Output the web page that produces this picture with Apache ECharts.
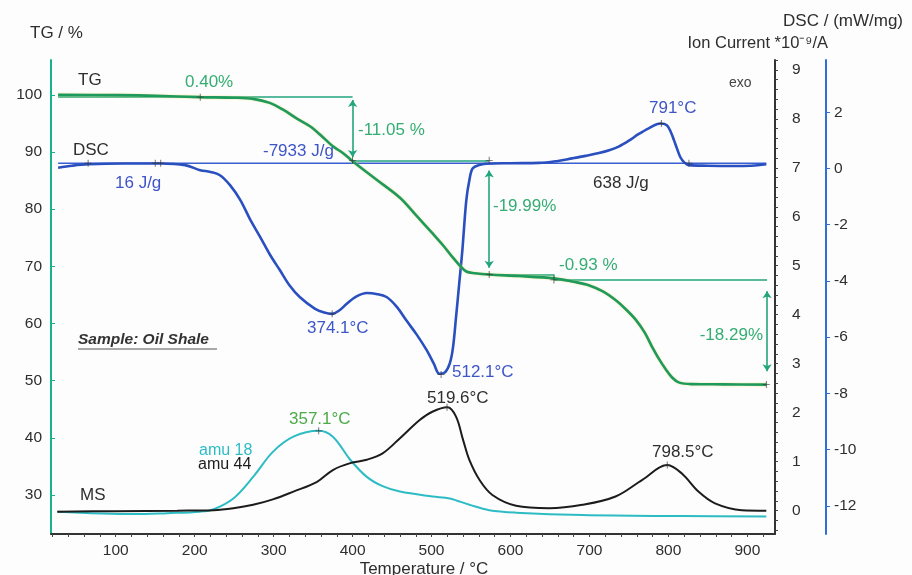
<!DOCTYPE html>
<html><head><meta charset="utf-8">
<script src="https://cdn.jsdelivr.net/npm/echarts@6/dist/echarts.min.js"></script>
<style>html,body{margin:0;padding:0;background:#fdfdfe}#c{width:912px;height:575px}</style>
</head><body><div id="c"></div>
<script>
// ---------- data ----------
const tgTemp  = [27,100,150,207,250,274,295,312,330,346,360,375,388,400,430,460,480,501,515,526,536,544,555,573,610,655,680,699,717,733,746,759,770,779,788,797,805,813,829,870,924];
const tgValue = [100,99.95,99.85,99.6,99.5,99.3,98.6,97.4,95.8,94.5,92.9,91.0,89.8,88.4,85.2,82.0,79.0,75.8,73.6,71.7,70.1,69.1,68.8,68.56,68.3,67.9,67.3,66.7,65.6,64.1,62.5,60.6,58.4,56.0,53.8,51.9,50.5,49.7,49.4,49.35,49.3];

const dscTemp  = [27,45,65,110,157,188,207,220,232,245,258,270,283,295,308,320,333,352,364,374,383,393,405,418,430,443,456,468,481,494,503,510,517,523,527,531,535,539,544,548,552,560,569,600,636,660,678,695,712,725,737,750,762,775,790,798,803,807,811,815,820,826,850,880,905,924];
const dscValue = [0.03,0.1,0.15,0.18,0.18,0.12,-0.06,-0.12,-0.24,-0.6,-1.13,-1.8,-2.44,-3.05,-3.62,-4.15,-4.57,-4.98,-5.12,-5.17,-5.05,-4.80,-4.55,-4.43,-4.46,-4.57,-4.92,-5.40,-5.9,-6.47,-6.95,-7.30,-7.25,-6.94,-6.4,-5.29,-4.1,-2.91,-1.13,-0.4,0.0,0.12,0.17,0.19,0.2,0.27,0.36,0.45,0.55,0.65,0.78,0.99,1.22,1.43,1.60,1.54,1.3,1.01,0.7,0.41,0.22,0.12,0.1,0.09,0.1,0.15];

const ms44Temp  = [26,100,178,224,249,274,299,325,355,375,397,418,438,460,485,501,520,531,540,548,561,577,607,649,691,733,767,798.5,817,838,859,893,924];
const ms44Value = [-0.02,-0.01,0,0.01,0.05,0.12,0.23,0.39,0.59,0.83,0.97,1.04,1.17,1.48,1.85,2.02,2.11,1.92,1.44,1.03,0.62,0.32,0.10,0.05,0.12,0.29,0.63,0.93,0.76,0.39,0.15,0.01,0];

const ms18Temp  = [26,123,165,207,224,249,274,299,325,357.1,375,397,418,438,460,501,523,548,573,607,691,817,924];
const ms18Value = [-0.02,-0.07,-0.05,-0.02,0.03,0.25,0.69,1.20,1.51,1.63,1.51,1.04,0.69,0.50,0.39,0.29,0.25,0.12,0.01,-0.04,-0.09,-0.11,-0.12];

// TG evaluation steps (%), and the temperatures that bound them
const tgStepLevels = [99.6, 88.55, 68.56, 67.63, 49.34];
const tgStepTemps  = [27, 400, 573, 655, 925];
const dscBaseline  = 0.19;

const tgMarks  = [[207,99.6],[400,88.55],[573,88.55],[573,68.56],[655,67.63],[924,49.34]];
const dscMarks = [[65,0.19],[150,0.19],[157,0.19],[374.1,-5.17],[512.1,-7.33],[791,1.6],[826,0.19]];
const msMarks  = [[357.1,1.63],[519.6,2.11],[798.5,0.93]];

const xTicks    = [100,200,300,400,500,600,700,800,900];
const tgTicks   = [30,40,50,60,70,80,90,100];
const ionTicks  = [0,1,2,3,4,5,6,7,8,9];
const dscTicks  = [-12,-10,-8,-6,-4,-2,0,2];

// ---------- style ----------
const FONT = '"Liberation Sans", Arial, sans-serif';
const C_TG = '#1e9a5e', C_GUIDE = '#22a57c', C_TXT_G = '#35ad72';
const C_DSC = '#2a4fbf', C_TXT_B = '#3e55c8', C_CYAN = '#2dbcc4', C_BLK = '#1c1c1c';
const TXT = '#2e2e2e';
const zip = (a, b) => a.map((v, i) => [v, b[i]]);
const range = (a, b, s) => { const r = []; for (let v = a; v <= b + 1e-9; v += s) r.push(+v.toFixed(3)); return r; };
const plus = 'path://M0,4.4H10V5.6H0Z M4.4,0H5.6V10H4.4Z';

const chart = echarts.init(document.getElementById('c'));

const L = tgStepLevels, S = tgStepTemps;
const guideLines = [
  [{coord:[S[0], L[0]]},{coord:[S[1], L[0]]}],
  [{coord:[S[1], L[1]]},{coord:[S[2], L[1]]}],
  [{coord:[S[2], L[2]]},{coord:[S[3], L[2]]}],
  [{coord:[S[3], L[2]]},{coord:[S[3], L[3]]}],
  [{coord:[S[3], L[3]]},{coord:[S[4], L[3]]}],
  [{coord:[S[1], L[0]-0.5], symbol:'arrow'},{coord:[S[1], L[1]+0.6], symbol:'arrow'}],
  [{coord:[S[2], L[1]-1.8], symbol:'arrow'},{coord:[S[2], L[2]+1.2], symbol:'arrow'}],
  [{coord:[S[4], L[3]-2], symbol:'arrow'},{coord:[S[4], L[4]+2.3], symbol:'arrow'}]
];

function txt(text, x, y, fill, opts) {
  opts = opts || {};
  return { type:'text', x:x, y:y, z:100, silent:true,
    style:{ text:text, fill:fill, font:(opts.font || ('17px ' + FONT)),
      textAlign: opts.align || 'left', textVerticalAlign:'middle',
      align: opts.align || 'left', verticalAlign:'middle' } };
}

const graphics = [
  txt('TG / %', 30, 33, TXT),
  txt('DSC / (mW/mg)', 903, 21, TXT, {align:'right'}),
  txt('Ion Current *10\u207B\u2079/A', 828, 43, TXT, {align:'right', font:'16.5px ' + FONT}),
  txt('Temperature / °C', 424, 569, TXT, {align:'center'}),
  txt('TG', 78, 80, TXT),
  txt('0.40%', 185, 82, C_TXT_G),
  txt('DSC', 73, 150, TXT),
  txt('16 J/g', 115, 183, C_TXT_B),
  txt('-7933 J/g', 263, 151, C_TXT_B),
  txt('-11.05 %', 358, 130, C_TXT_G),
  txt('-19.99%', 493, 206, C_TXT_G),
  txt('638 J/g', 593, 183, TXT),
  txt('-0.93 %', 559, 265, C_TXT_G),
  txt('791°C', 649, 108, C_TXT_B),
  txt('exo', 729, 83, '#444', {font:'14px ' + FONT}),
  txt('374.1°C', 307, 328, C_TXT_B),
  txt('512.1°C', 452, 372, C_TXT_B),
  txt('-18.29%', 763, 335, C_TXT_G, {align:'right'}),
  txt('Sample: Oil Shale', 78, 340, '#333', {font:'italic bold 15.5px ' + FONT}),
  { type:'line', z:100, silent:true, shape:{x1:78, y1:349, x2:217, y2:349}, style:{stroke:'#555', lineWidth:1.2} },
  txt('357.1°C', 289, 419, '#4caa48'),
  txt('519.6°C', 427, 398, TXT),
  txt('798.5°C', 652, 452, TXT),
  txt('amu 18', 199, 451, C_CYAN, {font:'16px ' + FONT}),
  txt('amu 44', 198, 465, C_BLK, {font:'16px ' + FONT}),
  txt('MS', 80, 495, TXT)
];

chart.setOption({
  backgroundColor:'#fdfdfe',
  animation:false,
  textStyle:{ fontFamily: FONT },
  grid:{ left:51, right:137, top:60, bottom:41, containLabel:false },
  xAxis:{
    type:'value', min:18, max:935,
    axisLine:{ show:true, onZero:false, lineStyle:{ color:'#333', width:2 } },
    axisTick:{ show:true, customValues: range(20, 920, 20), length:3, lineStyle:{ color:'#444' } },
    axisLabel:{ customValues: xTicks, color:TXT, fontSize:15.5, margin:9 },
    splitLine:{ show:false }
  },
  yAxis:[
    { type:'value', position:'left', min:23.17, max:106.1,
      axisLine:{ show:true, lineStyle:{ color:'#19b28e', width:2 } },
      axisTick:{ show:true, inside:true, customValues: tgTicks, length:4, lineStyle:{ color:'#19b28e' } },
      axisLabel:{ customValues: tgTicks, color:TXT, fontSize:15.5, margin:9 },
      splitLine:{ show:false } },
    { type:'value', position:'right', offset:0, min:-0.476, max:9.2,
      axisLine:{ show:true, lineStyle:{ color:'#333', width:2 } },
      axisTick:{ show:true, customValues: range(-0.4, 9.2, 0.2), length:3, lineStyle:{ color:'#444' } },
      axisLabel:{ customValues: ionTicks, color:TXT, fontSize:15.5, margin:17 },
      splitLine:{ show:false } },
    { type:'value', position:'right', offset:51, min:-13, max:3.86,
      axisLine:{ show:true, lineStyle:{ color:'#2f6fdc', width:2 } },
      axisTick:{ show:true, customValues: dscTicks, length:4, lineStyle:{ color:'#2f6fdc' } },
      axisLabel:{ customValues: dscTicks, color:TXT, fontSize:15.5, margin:8 },
      splitLine:{ show:false } }
  ],
  graphic: graphics,
  series:[
    { name:'DSC baseline', type:'line', yAxisIndex:2, silent:true, symbol:'none',
      data: [[27, dscBaseline],[924, dscBaseline]],
      lineStyle:{ color:'#3a5fd0', width:1.6 }, z:2 },
    { name:'amu 18', type:'line', yAxisIndex:1, symbol:'none', smooth:0.35,
      data: zip(ms18Temp, ms18Value), lineStyle:{ color:C_CYAN, width:2 }, z:3 },
    { name:'amu 44', type:'line', yAxisIndex:1, symbol:'none', smooth:0.35,
      data: zip(ms44Temp, ms44Value), lineStyle:{ color:C_BLK, width:2 }, z:4 },
    { name:'DSC', type:'line', yAxisIndex:2, symbol:'none', smooth:0.35,
      data: zip(dscTemp, dscValue), lineStyle:{ color:C_DSC, width:2.6 }, z:5 },
    { name:'TG', type:'line', yAxisIndex:0, symbol:'none', smooth:0.35,
      data: zip(tgTemp, tgValue),
      lineStyle:{ color:C_TG, width:2.6, shadowColor:'rgba(235,215,90,0.7)', shadowBlur:2 }, z:6,
      markLine:{ silent:true, symbol:'none', symbolSize:7, label:{ show:false },
        lineStyle:{ color:C_GUIDE, width:1.6, type:'solid' }, emphasis:{ disabled:true },
        data: guideLines } },
    { name:'TG marks', type:'scatter', yAxisIndex:0, symbol:plus, symbolSize:7,
      itemStyle:{ color:'#333' }, data: tgMarks, z:10, silent:true },
    { name:'DSC marks', type:'scatter', yAxisIndex:2, symbol:plus, symbolSize:7,
      itemStyle:{ color:'#333' }, data: dscMarks, z:10, silent:true },
    { name:'MS marks', type:'scatter', yAxisIndex:1, symbol:plus, symbolSize:7,
      itemStyle:{ color:'#333' }, data: msMarks, z:10, silent:true }
  ]
});
</script></body></html>
